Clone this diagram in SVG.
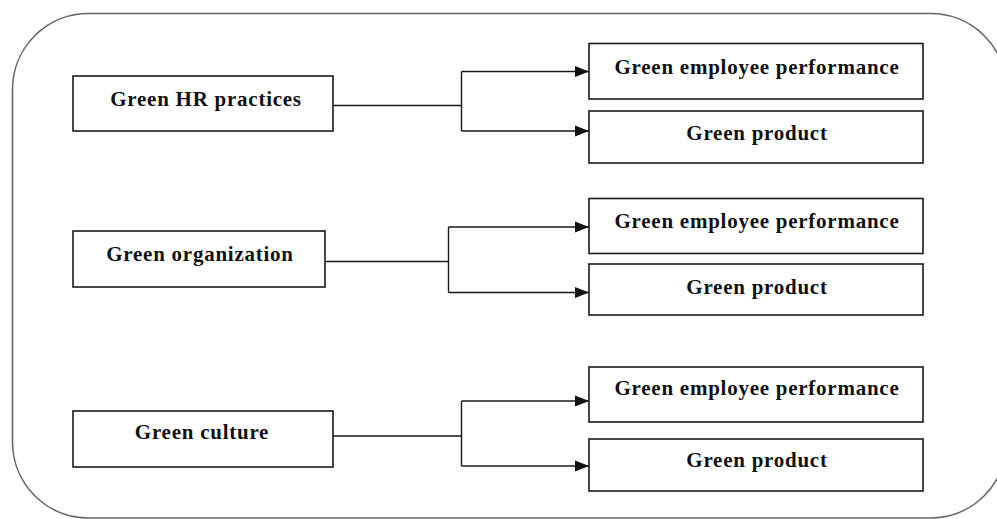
<svg xmlns="http://www.w3.org/2000/svg" width="997" height="519" viewBox="0 0 997 519">
<style>
.box{fill:#fff;stroke:#1a1a1a;stroke-width:1.6}
.t{font-family:"Liberation Serif","Times New Roman",serif;font-weight:bold;font-size:21px;letter-spacing:0.75px;fill:#111;text-anchor:middle}
.c{fill:none;stroke:#1a1a1a;stroke-width:1.4}
</style>
<defs>
<marker id="ah" markerUnits="userSpaceOnUse" markerWidth="15" markerHeight="12" refX="14" refY="6" orient="auto">
<path d="M0,0.5 L14,6 L0,11.5 Z" fill="#111"/>
</marker>
</defs>
<rect x="12.5" y="13.5" width="994" height="504.5" rx="76" ry="76" fill="#fff" stroke="#666" stroke-width="1.6"/>
<g id="connectors">
<path class="c" d="M333,105.5 H461.5 M461.5,71.5 V131"/>
<path class="c" d="M461.5,71.5 H589" marker-end="url(#ah)"/>
<path class="c" d="M461.5,131 H589" marker-end="url(#ah)"/>
<path class="c" d="M325,261.5 H448.5 M448.5,227 V292.5"/>
<path class="c" d="M448.5,227 H589" marker-end="url(#ah)"/>
<path class="c" d="M448.5,292.5 H589" marker-end="url(#ah)"/>
<path class="c" d="M333,436 H461.5 M461.5,401 V466"/>
<path class="c" d="M461.5,401 H589" marker-end="url(#ah)"/>
<path class="c" d="M461.5,466 H589" marker-end="url(#ah)"/>
</g>
<g id="hr">
<rect class="box" x="73" y="76" width="260" height="55"/>
<text class="t" x="206" y="106">Green HR practices</text>
</g>
<g id="org">
<rect class="box" x="73" y="231" width="252" height="56"/>
<text class="t" x="200" y="261">Green organization</text>
</g>
<g id="culture">
<rect class="box" x="73" y="411" width="260" height="56"/>
<text class="t" x="202" y="439">Green culture</text>
</g>
<g id="perf1">
<rect class="box" x="589" y="43.5" width="334" height="55.5"/>
<text class="t" x="757" y="74">Green employee performance</text>
</g>
<g id="prod1">
<rect class="box" x="589" y="111" width="334" height="52"/>
<text class="t" x="757" y="140">Green product</text>
</g>
<g id="perf2">
<rect class="box" x="589" y="198.5" width="334" height="55"/>
<text class="t" x="757" y="227.5">Green employee performance</text>
</g>
<g id="prod2">
<rect class="box" x="589" y="264" width="334" height="51"/>
<text class="t" x="757" y="293.5">Green product</text>
</g>
<g id="perf3">
<rect class="box" x="589" y="367" width="334" height="55"/>
<text class="t" x="757" y="395">Green employee performance</text>
</g>
<g id="prod3">
<rect class="box" x="589" y="439" width="334" height="52"/>
<text class="t" x="757" y="466.5">Green product</text>
</g>
</svg>
